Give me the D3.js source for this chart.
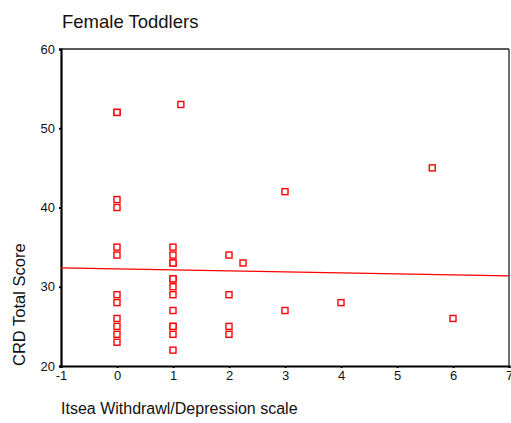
<!DOCTYPE html>
<html>
<head>
<meta charset="utf-8">
<script src="https://cdn.jsdelivr.net/npm/d3@7"></script>
<style>
  body { margin: 0; background: #fff; }
  svg { display: block; font-family: "Liberation Sans", Arial, sans-serif; }
</style>
</head>
<body>
<div id="chart"></div>
<script>
// values
const withdrawal = [0, 0, 0, 0, 0, 0, 0, 0, 0, 0, 0, 0,
                    1, 1, 1, 1, 1, 1, 1, 1, 1, 1, 1, 1, 1,
                    1.14, 2, 2, 2, 2, 2.25, 3, 3, 4, 5.63, 6];
const crdScore   = [52, 52, 41, 40, 35, 34, 29, 28, 26, 25, 24, 23,
                    35, 34, 33, 33, 31, 31, 30, 29, 27, 25, 25, 24, 22,
                    53, 34, 29, 25, 24, 33, 42, 27, 28, 45, 26];
// fitted line, read at both ends of the x range
const fitX = [-1, 7];
const fitY = [32.37, 31.36];
const xTicks = [-1, 0, 1, 2, 3, 4, 5, 6, 7];
const yTicks = [20, 30, 40, 50, 60];

const width = 511;
const height = 423;
const margin = { top: 49, right: 2, bottom: 57, left: 61 };

const svg = d3.select("#chart")
    .append("svg")
    .attr("width", width)
    .attr("height", height);

const x = d3.scaleLinear()
    .domain([-1, 7])
    .range([margin.left, width - margin.right]);

const y = d3.scaleLinear()
    .domain([20, 60])
    .range([height - margin.bottom, margin.top]);

// frame: thin top / right, heavier left / bottom
svg.append("line")
    .attr("x1", x(-1)).attr("x2", x(7))
    .attr("y1", y(60)).attr("y2", y(60))
    .attr("stroke", "#222").attr("stroke-width", 1.3);
svg.append("line")
    .attr("x1", x(7)).attr("x2", x(7))
    .attr("y1", y(60)).attr("y2", y(20))
    .attr("stroke", "#222").attr("stroke-width", 1.3);

const xAxis = svg.append("g")
    .attr("transform", `translate(0, ${y(20)})`)
    .call(d3.axisBottom(x).tickValues(xTicks).tickSize(2).tickPadding(3).tickFormat(d => String(d)));

const yAxis = svg.append("g")
    .attr("transform", `translate(${x(-1)}, 0)`)
    .call(d3.axisLeft(y).tickValues(yTicks).tickSize(2).tickPadding(4).tickFormat(d => String(d)));

[xAxis, yAxis].forEach(g => {
    g.select(".domain").attr("stroke", "#000").attr("stroke-width", 2.2);
    g.selectAll(".tick line").attr("stroke", "#000").attr("stroke-width", 2);
    g.selectAll(".tick text")
        .attr("fill", "#111")
        .style("font-size", "13px");
});

// regression line
svg.append("line")
    .attr("x1", x(fitX[0])).attr("y1", y(fitY[0]))
    .attr("x2", x(fitX[1])).attr("y2", y(fitY[1]))
    .attr("stroke", "#ff0000")
    .attr("stroke-width", 1.2);

// points
const points = withdrawal.map((v, i) => ({ x: v, y: crdScore[i] }));
const box = 6;
svg.selectAll("rect.pt")
    .data(points)
    .enter()
    .append("rect")
    .attr("class", "pt")
    .attr("x", d => x(d.x) - box / 2)
    .attr("y", d => y(d.y) - box / 2)
    .attr("width", box)
    .attr("height", box)
    .attr("fill", "#fff")
    .attr("stroke", "#ff0000")
    .attr("stroke-width", 1.4);

// titles
svg.append("text")
    .attr("x", 62)
    .attr("y", 28)
    .style("font-size", "18.5px")
    .attr("fill", "#111")
    .text("Female Toddlers");

svg.append("text")
    .attr("x", 61)
    .attr("y", 414)
    .style("font-size", "16px")
    .attr("fill", "#111")
    .text("Itsea Withdrawl/Depression scale");

svg.append("text")
    .attr("transform", `translate(25, ${y(20)}) rotate(-90)`)
    .style("font-size", "16.5px")
    .attr("fill", "#111")
    .text("CRD Total Score");
</script>
</body>
</html>
